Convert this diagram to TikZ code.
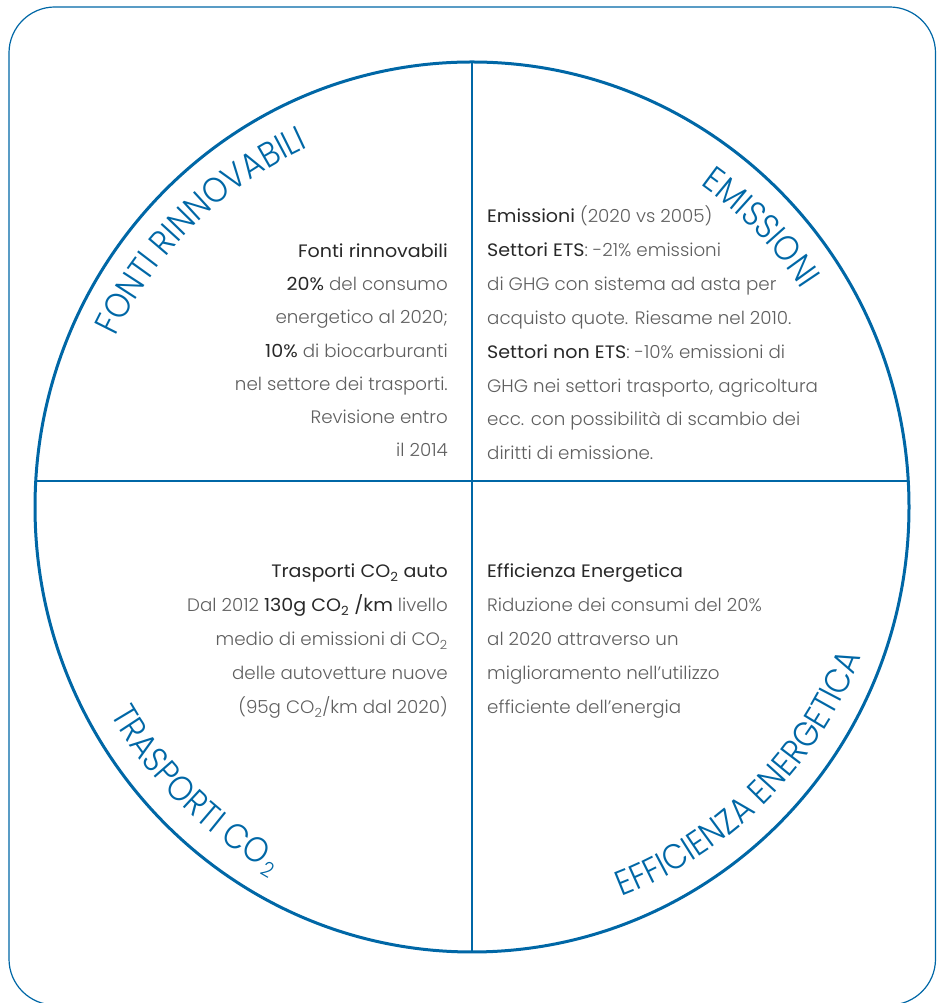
\documentclass[tikz,border=0pt]{standalone}
\usepackage{fontspec}
\usetikzlibrary{calc,decorations.text}
\IfFontExistsTF{Poppins Light}{%
  \newfontfamily\bodyfont{Poppins Light}[FakeStretch=1.015]
  \newfontfamily\titlefont{Poppins Light}[FakeStretch=0.9]}{%
  \newfontfamily\bodyfont{Poppins}[FakeStretch=1.015]
  \newfontfamily\titlefont{Poppins}[FakeStretch=0.9]}
\newfontfamily\headfont{Poppins}[FakeStretch=1.06]
\definecolor{ringblue}{RGB}{0,103,166}
\definecolor{bodygray}{RGB}{95,95,95}
\definecolor{headgray}{RGB}{40,40,40}
\newcommand{\keyw}[1]{{\headfont\color{headgray}#1}}
\newcommand{\ttl}{\titlefont\fontsize{35}{35}\selectfont}
\tikzset{
  frame/.style={draw=ringblue, line width=1.2pt, rounded corners=46pt},
  ring/.style={draw=ringblue, line width=3pt},
  cross/.style={draw=ringblue, line width=2.2pt},
  bodyline/.style={inner sep=0pt, font=\bodyfont\fontsize{18}{21}\selectfont, text=bodygray},
  leftcol/.style={bodyline, anchor=base east},
  rightcol/.style={bodyline, anchor=base west},
  arctitle/.style={decorate, decoration={text along path, text color=ringblue, #1}},
  ttlsub/.style={inner sep=0pt, text=ringblue, font=\titlefont\fontsize{21}{21}\selectfont}
}

\begin{document}
\begin{tikzpicture}[x=1pt,y=1pt]
  \useasboundingbox (0,0) rectangle (938,1003);
  \draw[frame] (9,-2) rectangle (935.5,996);
  \coordinate (O) at (472,496);
  \coordinate (vt) at (472,941);
  \coordinate (vb) at (472,51);
  \coordinate (hl) at (35.7,522);
  \coordinate (hr) at (908.3,522);
  \draw[ring] (O) ellipse[x radius=437pt, y radius=445pt];
  \draw[cross] (vt) -- (vb);
  \draw[cross] (hl) -- (hr);

  \path[arctitle={text align=center, text={|\ttl|FONTI RINNOVABILI}}] ($(O)+(180:395pt)$) arc[start angle=180, end angle=89, radius=395pt];
  \path[arctitle={text align=center, text={|\ttl|EMISSIONI}}] ($(O)+(80:395pt)$) arc[start angle=80, end angle=8, radius=395pt];
  \path[arctitle={text align=right, text={|\ttl|TRASPORTI CO}}] ($(O)+(180:417pt)$) arc[start angle=180, end angle=239.5, radius=417pt];
  \node[ttlsub, rotate=329.9, anchor=base west] (trsub) at ($(O)+(239.9:424pt)$) {2};
  \path[arctitle={text align=center, text={|\ttl|EFFICIENZA ENERGETICA}}] ($(O)+(260:417pt)$) arc[start angle=260, end angle=370, radius=417pt];

  \node[leftcol] (fr1) at (448,745) {\keyw{Fonti rinnovabili}};
  \node[leftcol] (fr2) at (448,712) {\keyw{20\%} del consumo};
  \node[leftcol] (fr3) at (448,679) {energetico al 2020;};
  \node[leftcol] (fr4) at (448,645) {\keyw{10\%} di biocarburanti};
  \node[leftcol] (fr5) at (448,612) {nel settore dei trasporti.};
  \node[leftcol] (fr6) at (448,579) {Revisione entro};
  \node[leftcol] (fr7) at (448,546) {il 2014};

  \node[rightcol] (em1) at (487,780) {\keyw{Emissioni} (2020 vs 2005)};
  \node[rightcol] (em2) at (487,746) {\keyw{Settori ETS}: -21\% emissioni};
  \node[rightcol] (em3) at (487,712) {di GHG con sistema ad asta per};
  \node[rightcol] (em4) at (487,678) {acquisto quote. Riesame nel 2010.};
  \node[rightcol] (em5) at (487,644) {\keyw{Settori non ETS}: -10\% emissioni di};
  \node[rightcol] (em6) at (487,610) {GHG nei settori trasporto, agricoltura};
  \node[rightcol] (em7) at (487,577) {ecc. con possibilità di scambio dei};
  \node[rightcol] (em8) at (487,543) {diritti di emissione.};

  \node[leftcol] (tr1) at (448,425) {\keyw{Trasporti CO\textsubscript{2} auto}};
  \node[leftcol] (tr2) at (448,391) {Dal 2012 \keyw{130g CO\textsubscript{2} /km} livello};
  \node[leftcol] (tr3) at (448,357) {medio di emissioni di CO\textsubscript{2}};
  \node[leftcol] (tr4) at (448,323) {delle autovetture nuove};
  \node[leftcol] (tr5) at (448,289) {(95g CO\textsubscript{2}/km dal 2020)};

  \node[rightcol] (ef1) at (487,425) {\keyw{Efficienza Energetica}};
  \node[rightcol] (ef2) at (487,391) {Riduzione dei consumi del 20\%};
  \node[rightcol] (ef3) at (487,357) {al 2020 attraverso un};
  \node[rightcol] (ef4) at (487,323) {miglioramento nell’utilizzo};
  \node[rightcol] (ef5) at (487,289) {efficiente dell’energia};
\end{tikzpicture}
\end{document}
